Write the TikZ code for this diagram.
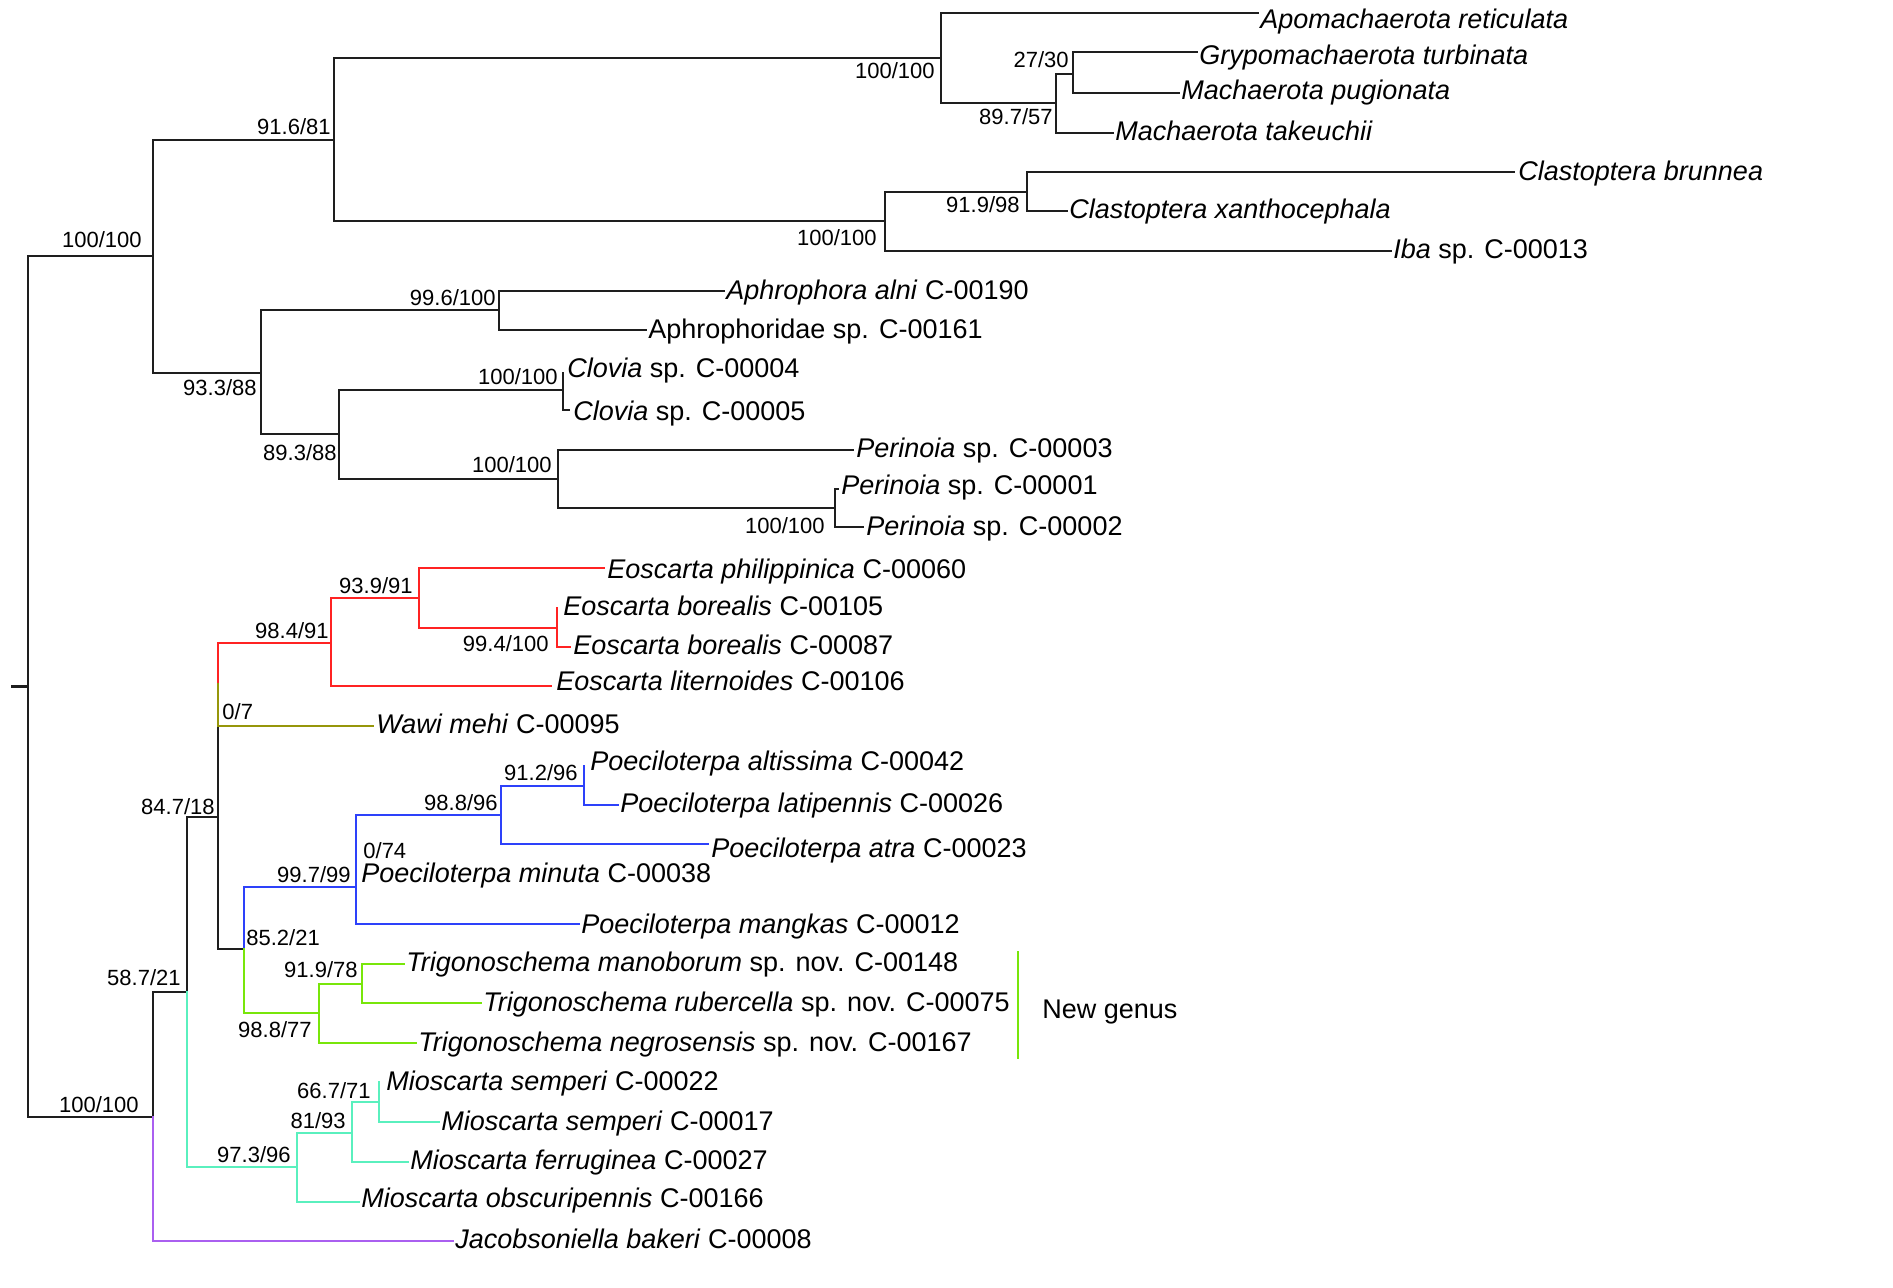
\documentclass[tikz,border=0pt]{standalone}
\usepackage{fontspec}
\setmainfont{Liberation Sans}
\definecolor{blk}{RGB}{30,30,30}
\definecolor{redc}{RGB}{255,35,35}
\definecolor{olivec}{RGB}{150,150,10}
\definecolor{bluec}{RGB}{45,65,250}
\definecolor{greenc}{RGB}{120,230,10}
\definecolor{cyanc}{RGB}{90,240,190}
\definecolor{purplec}{RGB}{170,95,240}
\begin{document}
\begin{tikzpicture}[x=0.5pt,y=-0.5pt,
  br/.style={line width=1.1pt, line cap=rect},
  tx/.style={font=\fontsize{13.5}{16}\selectfont, anchor=base west, inner sep=0pt, yshift=-4.8pt},
  sp/.style={font=\fontsize{11}{13}\selectfont, inner sep=0pt, anchor=base east},
  spw/.style={font=\fontsize{11}{13}\selectfont, inner sep=0pt, anchor=base west}]
\useasboundingbox (0,0) rectangle (1893,1288);
% ---------- coordinates (tree nodes and tips)
\coordinate (rs) at (12,686.5);
\coordinate (root) at (28,686.5);
\coordinate (nA) at (153,256);
\coordinate (nL) at (153,1117);
\coordinate (nB) at (334,140);
\coordinate (nC) at (261,373);
\coordinate (nMa) at (941,58);
\coordinate (nCl) at (885,221);
\coordinate (t1) at (1258,13);
\coordinate (n897) at (1056,103);
\coordinate (n2730) at (1073,74);
\coordinate (t2) at (1197,52);
\coordinate (t3) at (1179,93);
\coordinate (t4) at (1113,133);
\coordinate (n919) at (1027,192);
\coordinate (t5) at (1514,172);
\coordinate (t6) at (1067,211);
\coordinate (t7) at (1391,251);
\coordinate (nD) at (499,310);
\coordinate (t8) at (724,291);
\coordinate (t9) at (646,330);
\coordinate (nE) at (339,434);
\coordinate (nCv) at (563,390);
\coordinate (t10) at (563,373);
\coordinate (t11) at (569,410);
\coordinate (nP1) at (558,479);
\coordinate (t12) at (853,450);
\coordinate (nP2) at (835,508);
\coordinate (t13) at (838,489);
\coordinate (t14) at (863,527);
\coordinate (n587) at (187,992);
\coordinate (t32) at (453,1241);
\coordinate (n847) at (218,817);
\coordinate (nX) at (218,684.5);
\coordinate (n984) at (331,643);
\coordinate (t19) at (373,726);
\coordinate (n939) at (419,598);
\coordinate (t18) at (551,686);
\coordinate (t15) at (604,568);
\coordinate (n994) at (557,628);
\coordinate (t16) at (557,608);
\coordinate (t17) at (570,647);
\coordinate (n852) at (244,949);
\coordinate (n997) at (356,887);
\coordinate (nY) at (356,850);
\coordinate (t24) at (579,924);
\coordinate (t23) at (356,877);
\coordinate (n988) at (501,815);
\coordinate (n912) at (584,786);
\coordinate (t20) at (584,766);
\coordinate (t21) at (618,805);
\coordinate (t22) at (708,844);
\coordinate (n988b) at (319,1013);
\coordinate (n9197) at (362,984);
\coordinate (t25) at (404,964);
\coordinate (t26) at (481,1003);
\coordinate (t27) at (416,1043);
\coordinate (n973) at (297,1167);
\coordinate (n8193) at (352,1133);
\coordinate (n667) at (379,1102);
\coordinate (t28) at (379,1082);
\coordinate (t29) at (439,1122);
\coordinate (t30) at (408,1162);
\coordinate (t31) at (359,1202);
\coordinate (ngT) at (1018,951);
\coordinate (ngB) at (1018,1059);
% ---------- black branches
\draw[br,blk] (rs) -- (root);
\draw[br,blk] (root) |- (nA);
\draw[br,blk] (root) |- (nL);
\draw[br,blk] (nA) |- (nB);
\draw[br,blk] (nA) |- (nC);
\draw[br,blk] (nB) |- (nMa);
\draw[br,blk] (nB) |- (nCl);
\draw[br,blk] (nMa) |- (t1);
\draw[br,blk] (nMa) |- (n897);
\draw[br,blk] (n897) |- (n2730);
\draw[br,blk] (n897) |- (t4);
\draw[br,blk] (n2730) |- (t2);
\draw[br,blk] (n2730) |- (t3);
\draw[br,blk] (nCl) |- (n919);
\draw[br,blk] (nCl) |- (t7);
\draw[br,blk] (n919) |- (t5);
\draw[br,blk] (n919) |- (t6);
\draw[br,blk] (nC) |- (nD);
\draw[br,blk] (nC) |- (nE);
\draw[br,blk] (nD) |- (t8);
\draw[br,blk] (nD) |- (t9);
\draw[br,blk] (nE) |- (nCv);
\draw[br,blk] (nE) |- (nP1);
\draw[br,blk] (nCv) |- (t10);
\draw[br,blk] (nCv) |- (t11);
\draw[br,blk] (nP1) |- (t12);
\draw[br,blk] (nP1) |- (nP2);
\draw[br,blk] (nP2) |- (t13);
\draw[br,blk] (nP2) |- (t14);
\draw[br,blk] (nL) |- (n587);
\draw[br,blk] (n587) |- (n847);
\draw[br,blk] (n847) |- (nX);
\draw[br,blk] (n847) |- (n852);
% ---------- coloured branches
\draw[br,purplec] (nL) |- (t32);
\draw[br,cyanc] (n587) |- (n973);
\draw[br,cyanc] (n973) |- (n8193);
\draw[br,cyanc] (n973) |- (t31);
\draw[br,cyanc] (n8193) |- (n667);
\draw[br,cyanc] (n8193) |- (t30);
\draw[br,cyanc] (n667) |- (t28);
\draw[br,cyanc] (n667) |- (t29);
\draw[br,redc] (nX) |- (n984);
\draw[br,redc] (n984) |- (n939);
\draw[br,redc] (n984) |- (t18);
\draw[br,redc] (n939) |- (t15);
\draw[br,redc] (n939) |- (n994);
\draw[br,redc] (n994) |- (t16);
\draw[br,redc] (n994) |- (t17);
\draw[br,olivec] (nX) |- (t19);
\draw[br,bluec] (n852) |- (n997);
\draw[br,bluec] (n997) |- (nY);
\draw[br,bluec] (n997) |- (t24);
\draw[br,bluec] (nY) |- (n988);
\draw[br,bluec] (nY) |- (t23);
\draw[br,bluec] (n988) |- (n912);
\draw[br,bluec] (n988) |- (t22);
\draw[br,bluec] (n912) |- (t20);
\draw[br,bluec] (n912) |- (t21);
\draw[br,greenc] (n852) |- (n988b);
\draw[br,greenc] (n988b) |- (n9197);
\draw[br,greenc] (n988b) |- (t27);
\draw[br,greenc] (n9197) |- (t25);
\draw[br,greenc] (n9197) |- (t26);
\draw[line width=1.1pt,greenc] (ngT) -- (ngB);
% ---------- taxon labels
\node[tx] (L1) at (1260,19) {\textit{Apomachaerota reticulata}};
\node[tx] (L2) at (1199,55) {\textit{Grypomachaerota turbinata}};
\node[tx] (L3) at (1181,90) {\textit{Machaerota pugionata}};
\node[tx] (L4) at (1115,131) {\textit{Machaerota takeuchii}};
\node[tx] (L5) at (1518,171) {\textit{Clastoptera brunnea}};
\node[tx] (L6) at (1069,209) {\textit{Clastoptera xanthocephala}};
\node[tx] (L7) at (1393,249) {\textit{Iba} sp. C-00013};
\node[tx] (L8) at (726,290) {\textit{Aphrophora alni} C-00190};
\node[tx] (L9) at (648,329) {Aphrophoridae sp. C-00161};
\node[tx] (L10) at (567,368) {\textit{Clovia} sp. C-00004};
\node[tx] (L11) at (573,411) {\textit{Clovia} sp. C-00005};
\node[tx] (L12) at (856,448) {\textit{Perinoia} sp. C-00003};
\node[tx] (L13) at (841,485) {\textit{Perinoia} sp. C-00001};
\node[tx] (L14) at (866,526) {\textit{Perinoia} sp. C-00002};
\node[tx] (L15) at (607,569) {\textit{Eoscarta philippinica} C-00060};
\node[tx] (L16) at (563,606) {\textit{Eoscarta borealis} C-00105};
\node[tx] (L17) at (573,645) {\textit{Eoscarta borealis} C-00087};
\node[tx] (L18) at (556,681) {\textit{Eoscarta liternoides} C-00106};
\node[tx] (L19) at (376,724) {\textit{Wawi mehi} C-00095};
\node[tx] (L20) at (590,761) {\textit{Poeciloterpa altissima} C-00042};
\node[tx] (L21) at (620,803) {\textit{Poeciloterpa latipennis} C-00026};
\node[tx] (L22) at (711,848) {\textit{Poeciloterpa atra} C-00023};
\node[tx] (L23) at (361,873) {\textit{Poeciloterpa minuta} C-00038};
\node[tx] (L24) at (581,924) {\textit{Poeciloterpa mangkas} C-00012};
\node[tx] (L25) at (406,962) {\textit{Trigonoschema manoborum} sp. nov. C-00148};
\node[tx] (L26) at (483,1002) {\textit{Trigonoschema rubercella} sp. nov. C-00075};
\node[tx] (L27) at (418,1042) {\textit{Trigonoschema negrosensis} sp. nov. C-00167};
\node[tx] (L28) at (386,1081) {\textit{Mioscarta semperi} C-00022};
\node[tx] (L29) at (441,1121) {\textit{Mioscarta semperi} C-00017};
\node[tx] (L30) at (410,1160) {\textit{Mioscarta ferruginea} C-00027};
\node[tx] (L31) at (361,1198) {\textit{Mioscarta obscuripennis} C-00166};
\node[tx] (L32) at (455,1239) {\textit{Jacobsoniella bakeri} C-00008};
\node[tx] (NG) at (1042,1009) {New genus};
% ---------- support values
\node[sp] (S1) at (142,248) {100/100};
\node[sp] (S2) at (331,135) {91.6/81};
\node[sp] (S3) at (935,79) {100/100};
\node[sp] (S4) at (1069,68) {27/30};
\node[sp] (S5) at (1053,125) {89.7/57};
\node[sp] (S6) at (1020,213) {91.9/98};
\node[sp] (S7) at (877,246) {100/100};
\node[sp] (S8) at (496,306) {99.6/100};
\node[sp] (S9) at (257,396) {93.3/88};
\node[sp] (S10) at (558,385) {100/100};
\node[sp] (S11) at (337,460) {89.3/88};
\node[sp] (S12) at (552,473) {100/100};
\node[sp] (S13) at (825,533) {100/100};
\node[sp] (S14) at (413,593) {93.9/91};
\node[sp] (S15) at (329,638) {98.4/91};
\node[sp] (S16) at (549,651) {99.4/100};
\node[spw] (S17) at (222,719) {0/7};
\node[sp] (S18) at (578,780) {91.2/96};
\node[sp] (S19) at (498,810) {98.8/96};
\node[sp] (S20) at (215,814) {84.7/18};
\node[spw] (S21) at (363,858) {0/74};
\node[sp] (S22) at (351,882) {99.7/99};
\node[spw] (S23) at (246,945) {85.2/21};
\node[sp] (S24) at (181,985) {58.7/21};
\node[sp] (S25) at (358,977) {91.9/78};
\node[sp] (S26) at (312,1037) {98.8/77};
\node[sp] (S27) at (139,1112) {100/100};
\node[sp] (S28) at (371,1098) {66.7/71};
\node[sp] (S29) at (346,1128) {81/93};
\node[sp] (S30) at (291,1162) {97.3/96};
\end{tikzpicture}
\end{document}
